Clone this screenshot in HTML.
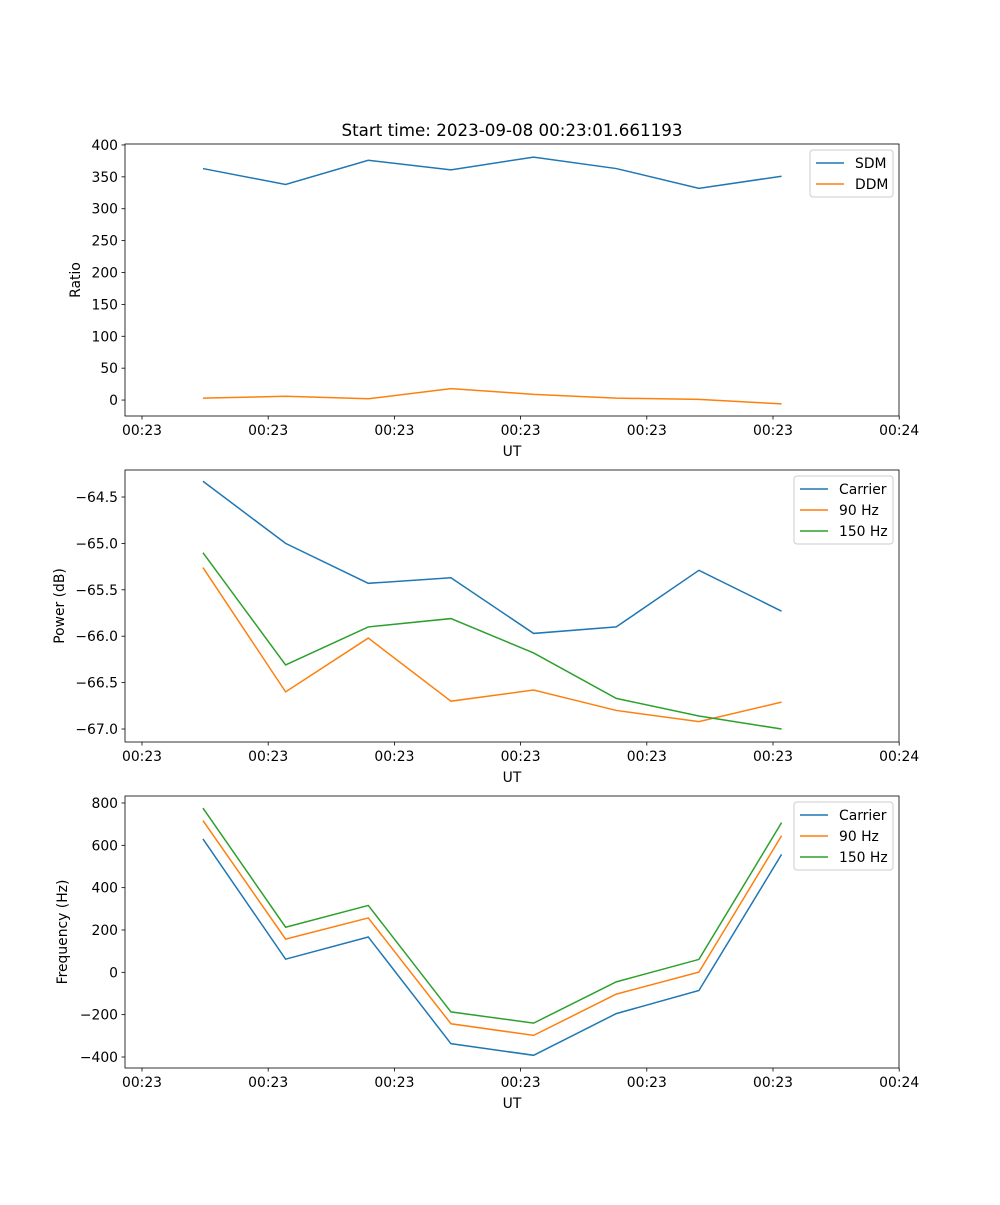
<!DOCTYPE html>
<html><head><meta charset="utf-8"><style>
body{margin:0;background:#fff}
svg text{font-family:"DejaVu Sans","Liberation Sans",sans-serif;fill:#000}
</style></head><body>
<svg id="fig" width="1000" height="1200" xmlns="http://www.w3.org/2000/svg">
<rect width="1000" height="1200" fill="#fff"/>
<text x="512" y="136" font-size="16.7" text-anchor="middle">Start time: 2023-09-08 00:23:01.661193</text>
</svg>
<script>
const tickLabels=["00:23","00:23","00:23","00:23","00:23","00:23","00:24"];
const times=[0.483,1.138,1.793,2.448,3.103,3.758,4.413,5.068];
const sdm=[363,338,376,361,381,363,332,351];
const ddm=[3,6,2,18,9,3,1,-6];
const pCarrier=[-64.33,-65.0,-65.43,-65.37,-65.97,-65.9,-65.29,-65.73];
const p90=[-65.26,-66.6,-66.02,-66.7,-66.58,-66.8,-66.92,-66.71];
const p150=[-65.1,-66.31,-65.9,-65.81,-66.18,-66.67,-66.86,-67.0];
const fCarrier=[630,62,167,-337,-392,-195,-86,557];
const f90=[717,157,257,-243,-298,-103,1,645];
const f150=[776,213,316,-187,-240,-45,61,707];
const yTicks1=[0,50,100,150,200,250,300,350,400];
const yTicks2=[-67.0,-66.5,-66.0,-65.5,-65.0,-64.5];
const yTicks3=[-400,-200,0,200,400,600,800];
const colors=["#1f77b4","#ff7f0e","#2ca02c"];
const NS="http://www.w3.org/2000/svg";
const svg=document.getElementById('fig');
function el(t,a,p){const e=document.createElementNS(NS,t);for(const k in a)e.setAttribute(k,a[k]);(p||svg).appendChild(e);return e;}
const L=125,R=899;
const xScale=u=>142+u*126.2;
function panel(name,top,bot,ymin,ymax,yt,fmt,ylabel,series,names,leg){
  const g=el('g',{});
  
  
  const ys=v=>bot-(v-ymin)/(ymax-ymin)*(bot-top);
  tickLabels.forEach((t,i)=>{const x=xScale(i);
    el('line',{x1:x,x2:x,y1:bot,y2:bot+3.5,stroke:'#000','stroke-width':0.8},g);
    const tx=el('text',{x:x,y:bot+19,'font-size':13.9,'text-anchor':'middle'},g);tx.textContent=t;
    
    });
  yt.forEach(v=>{const y=ys(v);
    el('line',{x1:L-3.5,x2:L,y1:y,y2:y,stroke:'#000','stroke-width':0.8},g);
    const tx=el('text',{x:L-7,y:y+5,'font-size':13.9,'text-anchor':'end'},g);tx.textContent=fmt(v);
    
    });
  const xl=el('text',{x:512,y:bot+40,'font-size':13.9,'text-anchor':'middle'},g);xl.textContent='UT';
  
  
  const yl=el('text',{x:0,y:0,'font-size':13.9,'text-anchor':'middle',transform:`translate(${leg.yx},${(top+bot)/2}) rotate(-90)`},g);yl.textContent=ylabel;
  
  
  series.forEach((s,i)=>{
    const p=el('polyline',{points:s.map((v,j)=>xScale(times[j])+','+ys(v)).join(' '),fill:'none',stroke:colors[i],'stroke-width':1.5},g);
    
    
  });
  el('rect',{x:L,y:top,width:R-L,height:bot-top,fill:'none',stroke:'#000','stroke-width':0.8},g);
  const lg=el('g',{},g);
  
  
  el('rect',{x:leg.x,y:top+6,width:893-leg.x,height:names.length*21+5,rx:3,fill:'#fff',stroke:'#ccc','stroke-width':1},lg);
  names.forEach((n,i)=>{const y=top+19+i*21;
    el('line',{x1:leg.x+6,x2:leg.x+34,y1:y,y2:y,stroke:colors[i],'stroke-width':1.5},lg);
    const t=el('text',{x:leg.x+45,y:y+5,'font-size':13.9},lg);t.textContent=n;
    
    });
}
panel('ratio-panel',144,416,-25,401.5,yTicks1,v=>String(v),'Ratio',[sdm,ddm],['SDM','DDM'],{x:810,yx:80});
panel('power-panel',470,742,-67.14,-64.209,yTicks2,v=>v.toFixed(1).replace('-','−'),'Power (dB)',[pCarrier,p90,p150],['Carrier','90 Hz','150 Hz'],{x:794,yx:64});
panel('frequency-panel',796,1068,-452,833,yTicks3,v=>String(v).replace('-','−'),'Frequency (Hz)',[fCarrier,f90,f150],['Carrier','90 Hz','150 Hz'],{x:794,yx:67});
</script>
</body></html>
